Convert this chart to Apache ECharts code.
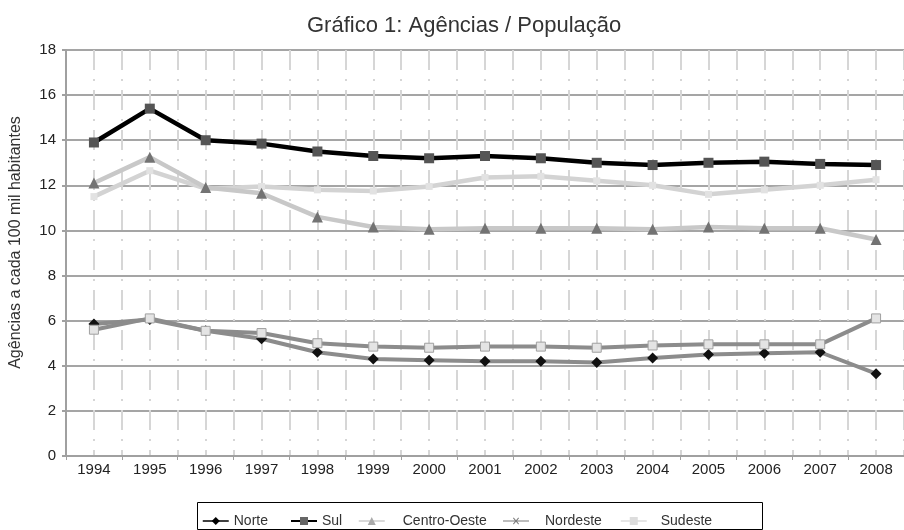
<!DOCTYPE html>
<html><head><meta charset="utf-8">
<script src="https://cdn.jsdelivr.net/npm/echarts@6/dist/echarts.min.js"></script>
<style>html,body{margin:0;padding:0;background:#fff}#c{width:904px;height:530px}</style>
</head><body><div id="c"></div>
<script>
const years = ['1994','1995','1996','1997','1998','1999','2000','2001','2002','2003','2004','2005','2006','2007','2008'];
const norte = [5.85, 6.05, 5.55, 5.2, 4.6, 4.3, 4.25, 4.2, 4.2, 4.15, 4.35, 4.5, 4.55, 4.6, 3.65];
const sul = [13.9, 15.4, 14.0, 13.85, 13.5, 13.3, 13.2, 13.3, 13.2, 13.0, 12.9, 13.0, 13.05, 12.95, 12.9];
const centroOeste = [12.1, 13.25, 11.9, 11.65, 10.6, 10.15, 10.05, 10.1, 10.1, 10.1, 10.05, 10.15, 10.1, 10.1, 9.6];
const nordeste = [5.6, 6.1, 5.55, 5.45, 5.0, 4.85, 4.8, 4.85, 4.85, 4.8, 4.9, 4.95, 4.95, 4.95, 6.1];
const sudeste = [11.5, 12.65, 11.85, 11.95, 11.8, 11.75, 11.95, 12.35, 12.4, 12.2, 12.0, 11.6, 11.8, 12.0, 12.25];
const yTicks = [0, 2, 4, 6, 8, 10, 12, 14, 16, 18];

const FONT = '"Liberation Sans", Arial, sans-serif';
const nordesteIcon = 'path://M0,3H26V4.1H0Z M10,0.7 L10.7,0 L13,2.8 L15.3,0 L16,0.7 L13.7,3.5 L16,6.3 L15.3,7 L13,4.2 L10.7,7 L10,6.3 L12.3,3.5 Z';

function legendAt(left, extraPad, item, h) {
  return {
    top: 514, left: left, padding: 0, itemWidth: 26, itemHeight: h || 10, itemGap: 0,
    selectedMode: false,
    textStyle: {fontFamily: FONT, fontSize: 14, color: '#333', padding: [0, 0, 0, extraPad]},
    data: [item]
  };
}

const chart = echarts.init(document.getElementById('c'), null, {renderer: 'canvas'});
chart.setOption({
  animation: false,
  textStyle: {fontFamily: FONT},
  title: {text: 'Gráfico 1: Agências / População', left: 302, top: 10,
    textStyle: {fontFamily: FONT, fontSize: 22, fontWeight: 'normal', color: '#333'}},
  grid: {left: 66, right: 0, top: 50, height: 406},
  graphic: [{type: 'rect', shape: {x: 197.5, y: 502.5, width: 565, height: 27},
    style: {fill: 'none', stroke: '#000', lineWidth: 1}, silent: true}],
  legend: [
    legendAt(202, 0, {name: 'Norte', itemStyle: {color: '#000'}, lineStyle: {color: '#000', width: 1.5}}),
    legendAt(290, 0, {name: 'Sul', itemStyle: {color: '#666'}, lineStyle: {color: '#000', width: 2}}),
    legendAt(358, 13, {name: 'Centro-Oeste', itemStyle: {color: '#aaa'}, lineStyle: {color: '#cccccc', width: 1.5}}),
    legendAt(503, 11, {name: 'Nordeste', icon: nordesteIcon,
      itemStyle: {color: '#7a7a7a', borderWidth: 0, borderColor: 'transparent'},
      lineStyle: {width: 0, color: 'transparent'}}, 7),
    legendAt(620, 9, {name: 'Sudeste', itemStyle: {color: '#dddddd'}, lineStyle: {color: '#dddddd', width: 1.5}})
  ],
  xAxis: [{
    type: 'category', data: years, boundaryGap: true,
    axisLine: {lineStyle: {color: '#a0a0a0', width: 2}},
    axisTick: {show: true, length: 4, lineStyle: {color: '#a0a0a0', width: 1}},
    axisLabel: {fontFamily: FONT, fontSize: 15, color: '#222', margin: 6},
    splitLine: {show: false}
  }, {
    type: 'value', min: -0.5, max: 14.5, interval: 0.5, position: 'bottom',
    axisLine: {show: false, onZero: false}, axisTick: {show: false}, axisLabel: {show: false},
    splitLine: {show: true, lineStyle: {color: '#d6d6d6', width: 2, type: [20, 9, 2, 9]}}
  }],
  yAxis: {
    type: 'value', min: yTicks[0], max: yTicks[yTicks.length - 1], interval: 2,
    name: 'Agências a cada 100 mil habitantes', nameLocation: 'middle', nameGap: 42,
    nameTextStyle: {fontFamily: FONT, fontSize: 16, color: '#333', padding: [0, 0, 0, 21]},
    axisLine: {show: true, onZero: false, lineStyle: {color: '#a0a0a0', width: 2}},
    axisTick: {show: true, length: 4, lineStyle: {color: '#a0a0a0', width: 2}},
    axisLabel: {fontFamily: FONT, fontSize: 15, color: '#222', margin: 10},
    splitLine: {show: true, lineStyle: {color: '#a5a5a5', width: 2}}
  },
  series: [
    {name: 'Norte', type: 'line', data: norte, xAxisIndex: 0, z: 3,
      lineStyle: {color: '#8c8c8c', width: 4}, symbol: 'diamond', symbolSize: 11,
      itemStyle: {color: '#111'}},
    {name: 'Sul', type: 'line', data: sul, xAxisIndex: 0, z: 5,
      lineStyle: {color: '#000', width: 4.5}, symbol: 'rect', symbolSize: 10,
      itemStyle: {color: '#555'}},
    {name: 'Centro-Oeste', type: 'line', data: centroOeste, xAxisIndex: 0, z: 4,
      lineStyle: {color: '#c8c8c8', width: 4.5}, symbol: 'triangle', symbolSize: 11,
      itemStyle: {color: '#737373'}},
    {name: 'Nordeste', type: 'line', data: nordeste, xAxisIndex: 0, z: 4,
      lineStyle: {color: '#8c8c8c', width: 4}, symbol: 'rect', symbolSize: 9,
      itemStyle: {color: '#e4e4e4', borderColor: '#a0a0a0', borderWidth: 1}},
    {name: 'Sudeste', type: 'line', data: sudeste, xAxisIndex: 0, z: 3,
      lineStyle: {color: '#d3d3d3', width: 4.5}, symbol: 'rect', symbolSize: 7,
      itemStyle: {color: '#e2e2e2'}}
  ]
});
</script></body></html>
